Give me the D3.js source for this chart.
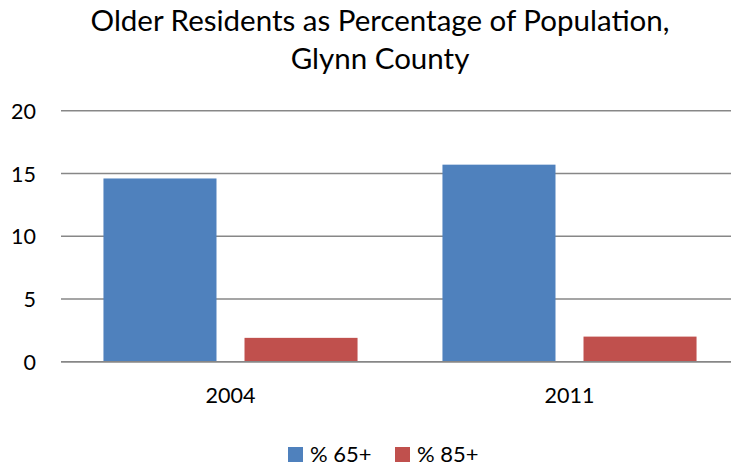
<!DOCTYPE html>
<html>
<head>
<meta charset="utf-8">
<script src="https://cdn.jsdelivr.net/npm/d3@7/dist/d3.min.js"></script>
<style>
  body { margin: 0; background: #fff; }
  text { font-family: Lato, "Open Sans", sans-serif; fill: #000; }
</style>
</head>
<body>
<svg id="chart" width="731" height="466"></svg>
<script>
// data
let years = ['2004', '2011'];
let seriesNames = ['% 65+', '% 85+'];
let pct65 = [14.6, 15.7];
let pct85 = [1.9, 2.0];
let yTicks = [0, 5, 10, 15, 20];
let colors = ['#4F81BD', '#C0504D'];

let rows = years.map((y, i) => ({ year: y, values: [pct65[i], pct85[i]] }));

let svg = d3.select('#chart');

// plot area (gridlines run off the right edge, like the original)
let plotLeft = 61, plotRight = 739, plotTop = 110.7, plotBottom = 361.7;

let x0 = d3.scaleBand()
  .domain(years)
  .range([plotLeft, plotRight]);

let x1 = d3.scaleBand()
  .domain(seriesNames)
  .range([0, x0.bandwidth()])
  .paddingInner(0.1986)
  .paddingOuter(0.301);

let y = d3.scaleLinear()
  .domain([0, 20])
  .range([plotBottom, plotTop]);

// gridlines
svg.append('g').selectAll('line')
  .data(yTicks)
  .join('line')
  .attr('x1', plotLeft)
  .attr('x2', 731)
  .attr('y1', d => y(d))
  .attr('y2', d => y(d))
  .attr('stroke', '#878787')
  .attr('stroke-width', 1.5);

// y axis labels
let yAxis = d3.axisLeft(y).tickValues(yTicks).tickSize(0).tickPadding(0);
let gy = svg.append('g').attr('transform', `translate(${plotLeft - 25},0)`).call(yAxis);
gy.select('.domain').remove();
gy.selectAll('text')
  .style('font-size', '21.5px')
  .style('font-family', 'Lato, sans-serif')
  .attr('fill', '#000')
  .attr('dy', '0.36em');

// bars
let groups = svg.append('g').selectAll('g')
  .data(rows)
  .join('g')
  .attr('transform', d => `translate(${x0(d.year)},0)`);

groups.selectAll('rect')
  .data(d => d.values.map((v, i) => ({ name: seriesNames[i], v: v, i: i })))
  .join('rect')
  .attr('x', d => x1(d.name))
  .attr('width', x1.bandwidth())
  .attr('y', d => y(d.v))
  .attr('height', d => y(0) - y(d.v))
  .attr('fill', d => colors[d.i]);

// baseline over the bars
svg.append('line')
  .attr('x1', plotLeft).attr('x2', 731)
  .attr('y1', y(0)).attr('y2', y(0))
  .attr('stroke', '#878787')
  .attr('stroke-width', 1.5);

// x axis labels
let xAxis = d3.axisBottom(x0).tickSize(0).tickPadding(0);
let gx = svg.append('g').attr('transform', `translate(0,${plotBottom})`).call(xAxis);
gx.select('.domain').remove();
gx.selectAll('text')
  .style('font-size', '21.5px')
  .style('font-family', 'Lato, sans-serif')
  .attr('fill', '#000')
  .attr('y', 41)
  .attr('dy', 0);

// title
let title = svg.append('text')
  .attr('text-anchor', 'middle')
  .style('font-size', '29.5px');
title.append('tspan').attr('x', 380).attr('y', 31).text('Older Residents as Percentage of Population,');
title.append('tspan').attr('x', 380).attr('y', 69).text('Glynn County');

// legend
let legend = svg.append('g').selectAll('g')
  .data(seriesNames)
  .join('g')
  .attr('transform', (d, i) => `translate(${[288, 395][i]},447)`);
legend.append('rect')
  .attr('width', 15).attr('height', 15)
  .attr('fill', (d, i) => colors[i]);
legend.append('text')
  .attr('x', 22).attr('y', 15)
  .style('font-size', '22px')
  .text(d => d);
</script>
</body>
</html>
